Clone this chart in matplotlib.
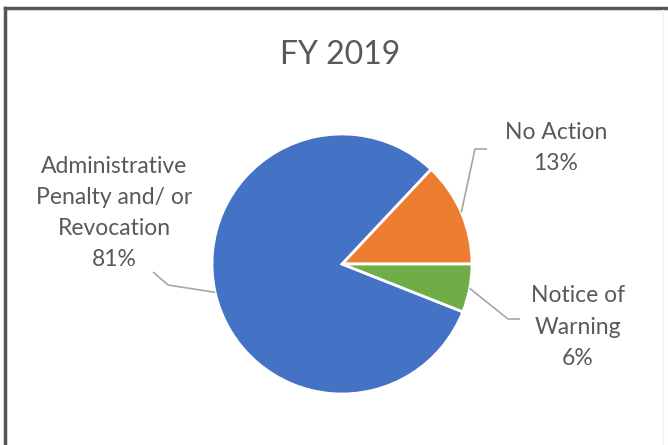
import numpy as np
import matplotlib.pyplot as plt
from matplotlib.lines import Line2D

plt.rcParams['font.family'] = ['Lato', 'DejaVu Sans']

titulo = "FY 2019"
categorias = ["No Action", "Administrative\nPenalty and/ or\nRevocation", "Notice of\nWarning"]
porcentajes = [13, 81, 6]
colores = ["#ED7D31", "#4472C4", "#70AD47"]

W, H = 668, 445
fig = plt.figure(figsize=(W / 100, H / 100), dpi=100)
ax = fig.add_axes([0, 0, 1, 1])

# marco de la captura: borde oscuro arriba e izquierda
fig.add_artist(Line2D([5, 5], [0, H - 8], transform=None, color="#555555", lw=2.5))
fig.add_artist(Line2D([5, W], [H - 8, H - 8], transform=None, color="#555555", lw=2.5))
fig.add_artist(Line2D([663, 663], [0, H - 10], transform=None, color="#f0f0f0", lw=1))

centro = (342, H - 264)
radio = 130
cuñas, _ = ax.pie(porcentajes, colors=colores, startangle=0, counterclock=True,
                  center=centro, radius=radio, frame=True,
                  wedgeprops=dict(edgecolor='white', linewidth=2))
ax.set_xlim(0, W)
ax.set_ylim(0, H)
ax.set_aspect('equal')
ax.axis('off')

gris = "#595959"
ax.text(340, H - 55, titulo, ha='center', va='center', fontsize=23, color=gris)

# posiciones de etiquetas y quiebres de las líneas guía (en píxeles)
etiquetas = [
    dict(xy=(556, H - 148), puntos=[(487, H - 149), (475, H - 149)]),
    dict(xy=(114, H - 213), puntos=[(153, H - 272), (168, H - 285)]),
    dict(xy=(578, H - 327), puntos=[(520, H - 319), (508, H - 319)]),
]

for cuña, cat, pct, et in zip(cuñas, categorias, porcentajes, etiquetas):
    ang = np.deg2rad((cuña.theta1 + cuña.theta2) / 2)
    borde = (centro[0] + radio * np.cos(ang), centro[1] + radio * np.sin(ang))
    xs = [p[0] for p in et['puntos']] + [borde[0]]
    ys = [p[1] for p in et['puntos']] + [borde[1]]
    ax.plot(xs, ys, color="#a6a6a6", lw=1.2, solid_capstyle='butt')
    ax.text(et['xy'][0], et['xy'][1], f"{cat}\n{pct}%", ha='center', va='center',
            fontsize=16.5, color=gris, linespacing=1.6)

fig.savefig("out.png", dpi=100)
